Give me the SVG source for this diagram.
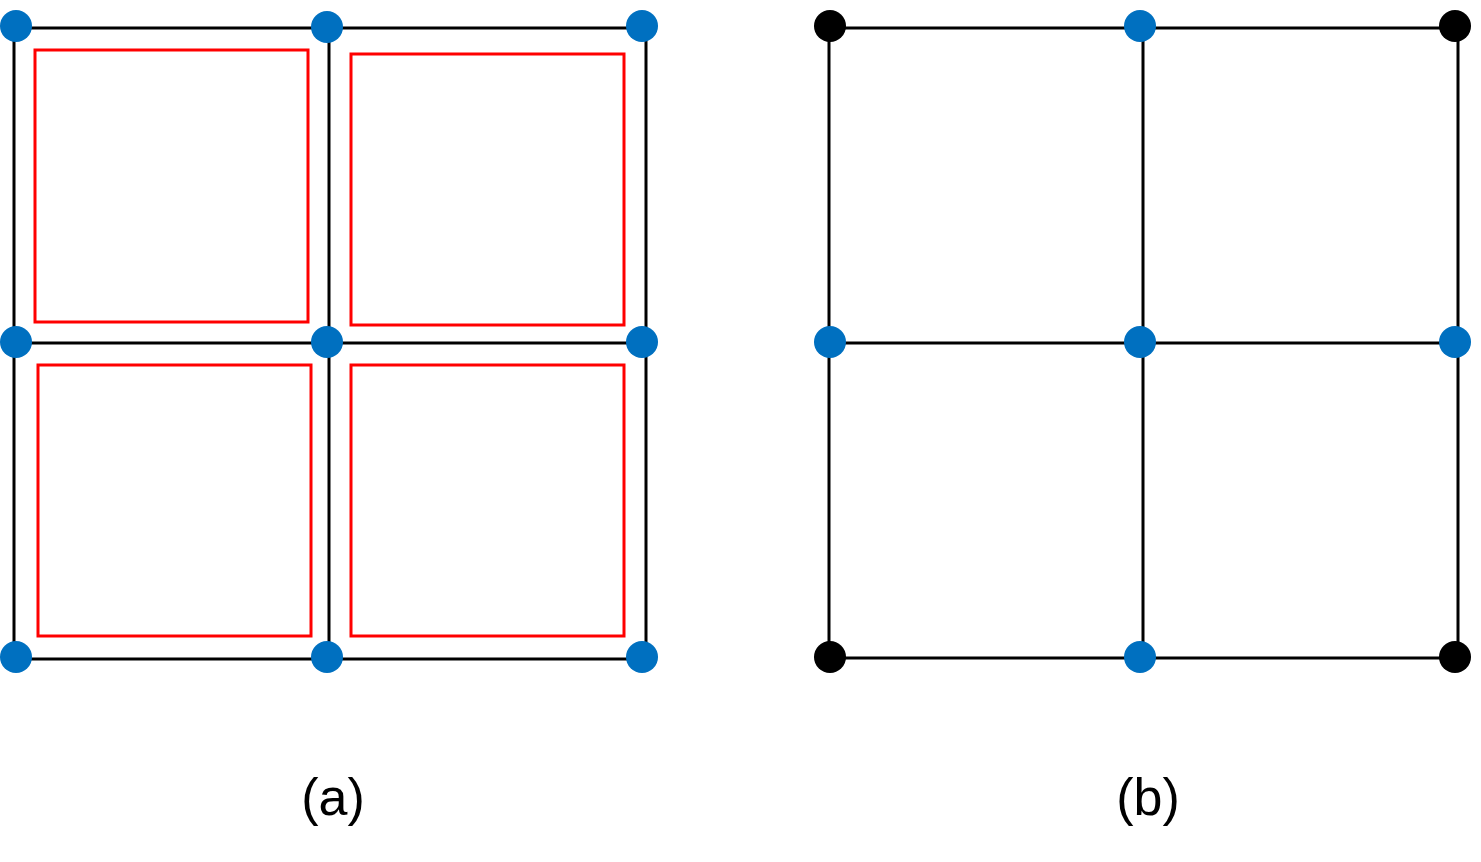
<svg xmlns="http://www.w3.org/2000/svg" width="1481" height="862" viewBox="0 0 1481 862">
<style>
.ln{stroke:#000;stroke-width:3;fill:none}
.red{stroke:#f00;stroke-width:3;fill:none}
.blue{fill:#0070c0}
.blk{fill:#000}
.lbl{font-family:"Liberation Sans",Arial,sans-serif;font-size:52px;text-anchor:middle;fill:#000}
</style>
<rect width="1481" height="862" fill="#fff"/>
<g id="connectors">
<path class="ln" d="M16 28H642M16 343H642M16 659H642M14 28V658M329 28V658M646 28V658"/>
<path class="ln" d="M830 28H1455M830 343H1455M830 658H1455M829 28V658M1143 28V658M1458 28V658"/>
</g>
<g id="cells-a">
<rect id="cell1" class="red" x="35" y="50" width="273" height="272"/>
<rect id="cell2" class="red" x="351" y="54" width="273" height="271"/>
<rect id="cell3" class="red" x="38" y="365" width="273" height="271"/>
<rect id="cell4" class="red" x="351" y="365" width="273" height="271"/>
</g>
<g id="nodes-a">
<circle id="a1" class="blue" cx="16" cy="26" r="16"/>
<circle id="a2" class="blue" cx="327" cy="27" r="16"/>
<circle id="a3" class="blue" cx="642" cy="26" r="16"/>
<circle id="a4" class="blue" cx="16" cy="342" r="16"/>
<circle id="a5" class="blue" cx="327" cy="342" r="16"/>
<circle id="a6" class="blue" cx="642" cy="342" r="16"/>
<circle id="a7" class="blue" cx="16" cy="657" r="16"/>
<circle id="a8" class="blue" cx="327" cy="657" r="16"/>
<circle id="a9" class="blue" cx="642" cy="657" r="16"/>
</g>
<g id="nodes-b">
<circle id="b1" class="blk" cx="830" cy="26" r="16"/>
<circle id="b2" class="blue" cx="1140" cy="26" r="16"/>
<circle id="b3" class="blk" cx="1455" cy="26" r="16"/>
<circle id="b4" class="blue" cx="830" cy="342" r="16"/>
<circle id="b5" class="blue" cx="1140" cy="342" r="16"/>
<circle id="b6" class="blue" cx="1455" cy="342" r="16"/>
<circle id="b7" class="blk" cx="830" cy="657" r="16"/>
<circle id="b8" class="blue" cx="1140" cy="657" r="16"/>
<circle id="b9" class="blk" cx="1455" cy="657" r="16"/>
</g>
<text class="lbl" x="333" y="815">(a)</text>
<text class="lbl" x="1148" y="815">(b)</text>
</svg>
